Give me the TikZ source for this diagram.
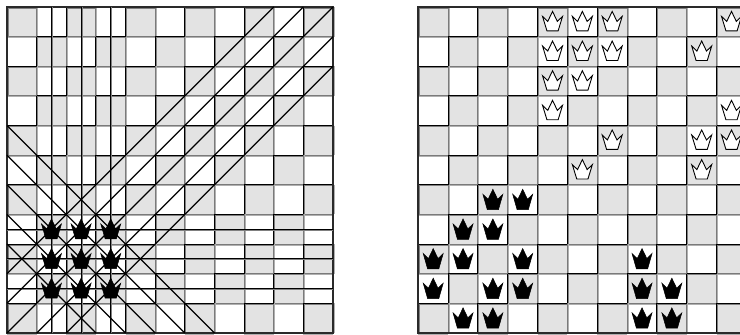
\documentclass[tikz,border=0pt]{standalone}
\definecolor{cellgrey}{HTML}{E3E3E3}
\definecolor{edgegrey}{HTML}{7A7A7A}
\definecolor{softhalo}{HTML}{B0B0B0}
\definecolor{darkhalo}{HTML}{808080}
\definecolor{frameink}{HTML}{2A2A2A}
\tikzset{
  cellfill/.style={fill=cellgrey,draw=none},
  darkedge/.style={draw=black,line width=0.95pt},
  darkcompanion/.style={draw=darkhalo,line width=0.95pt},
  softedge/.style={draw=edgegrey,line width=0.95pt},
  softcompanion/.style={draw=softhalo,line width=0.95pt},
  frameedge/.style={draw=frameink,line width=1.7pt},
  attack/.style={draw=black,line width=1.25pt},
  whitequeen/.style={fill=white,draw=black,line width=0.9pt,line join=miter},
  blackqueen/.style={fill=black,draw=black,line width=0.5pt,line join=miter}
}
% \boardat{x0}{y0}{cell w}{cell h}: checker board, y0 is the top edge in px from image top
\newcommand{\boardat}[4]{%
  \foreach \rw in {0,...,10}{\foreach \cl in {0,...,10}{%
    \pgfmathtruncatemacro{\parityval}{mod(\rw+\cl,2)}%
    \ifnum\parityval=0
      \fill[cellfill] ({#1+\cl*#3},{-(#2+\rw*#4)}) rectangle ++(#3,-#4);
    \fi}}%
  \foreach \rw in {0,...,10}{\foreach \cl in {0,...,10}{%
    \pgfmathtruncatemacro{\parityval}{mod(\rw+\cl,2)}%
    \ifnum\parityval=0
      \draw[softcompanion] ({#1+\cl*#3+#3+1},{-(#2+\rw*#4)}) -- ++(0,-#4);
      \draw[softcompanion] ({#1+\cl*#3},{-(#2+\rw*#4+#4+1)}) -- ++(#3,0);
      \draw[softedge] ({#1+\cl*#3+#3},{-(#2+\rw*#4)}) -- ++(0,-#4);
      \draw[softedge] ({#1+\cl*#3},{-(#2+\rw*#4+#4)}) -- ++(#3,0);
    \fi}}%
  \foreach \rw in {0,...,10}{\foreach \cl in {0,...,10}{%
    \pgfmathtruncatemacro{\parityval}{mod(\rw+\cl,2)}%
    \ifnum\parityval=0
      \draw[darkcompanion] ({#1+\cl*#3+1},{-(#2+\rw*#4)}) -- ++(0,-#4);
      \draw[darkcompanion] ({#1+\cl*#3},{-(#2+\rw*#4+1)}) -- ++(#3,0);
      \draw[darkedge] ({#1+\cl*#3},{-(#2+\rw*#4)}) -- ++(0,-#4);
      \draw[darkedge] ({#1+\cl*#3},{-(#2+\rw*#4)}) -- ++(#3,0);
    \fi}}%
  \draw[frameedge] (#1,{-#2}) rectangle ({#1+11*#3},{-(#2+11*#4)});
}
% crown outline centred on (x,y) in px
\newcommand{\crownat}[4]{%
  \draw[#1] ({#2-5.6},{-(#3+#4)}) -- ({#2-10},{-(#3-5.4)}) -- ({#2-4.8},{-(#3-0.4)})
    -- ({#2},{-(#3-10.4)}) -- ({#2+4.8},{-(#3-0.4)}) -- ({#2+10},{-(#3-5.4)})
    -- ({#2+5.6},{-(#3+#4)}) -- cycle;
}
\begin{document}
\begin{tikzpicture}[x=1pt,y=1pt]
\useasboundingbox (0,0) rectangle (740,-335);
\begin{scope}
\clip (0,0) rectangle (740,-335);
\fill[white] (0,0) rectangle (740,-335);
\def\Lx{7}\def\Ly{7}\def\Lw{29.64}\def\Lh{29.64}
\def\Rx{418.3}\def\Ry{7}\def\Rw{29.83}\def\Rh{29.64}
\boardat{\Lx}{\Ly}{\Lw}{\Lh}
\boardat{\Rx}{\Ry}{\Rw}{\Rh}
% attack lines on the left board: cells from the bottom-left corner
\begin{scope}[x=29.64pt,y=29.64pt,shift={(7pt,-333pt)}]
  \foreach \qq in {1.5,2.5,3.5}{
    \draw[darkcompanion] ([xshift=1pt]\qq,0) -- ([xshift=1pt]\qq,11);
    \draw[darkcompanion] ([yshift=-1pt]0,\qq) -- ([yshift=-1pt]11,\qq);
    \draw[darkedge] (\qq,0) -- (\qq,11);
    \draw[darkedge] (0,\qq) -- (11,\qq);
  }
  \draw[attack] (0,0) -- (11,11);
  \draw[attack] (0,1) -- (10,11);
  \draw[attack] (0,2) -- (9,11);
  \draw[attack] (1,0) -- (11,10);
  \draw[attack] (2,0) -- (11,9);
  \foreach \ss in {3,...,7}{
    \draw[attack] (0,\ss) -- (\ss,0);
  }
\end{scope}
\foreach \rw in {7,8,9}{\foreach \cl in {1,2,3}{
  \crownat{blackqueen}{\Lx+(\cl+0.5)*\Lw}{\Ly+(\rw+0.5)*\Lh}{9.6}
}}
% white queens, right board: col/row
\foreach \cl/\rw in {4/0,5/0,6/0,10/0,4/1,5/1,6/1,9/1,4/2,5/2,4/3,10/3,6/4,9/4,10/4,5/5,9/5}{
  \crownat{whitequeen}{\Rx+(\cl+0.5)*\Rw}{\Ry+(\rw+0.5)*\Rh}{9}
}
% black queens, right board
\foreach \cl/\rw in {2/6,3/6,1/7,2/7,0/8,1/8,3/8,7/8,0/9,2/9,3/9,7/9,8/9,1/10,2/10,7/10,8/10}{
  \crownat{blackqueen}{\Rx+(\cl+0.5)*\Rw}{\Ry+(\rw+0.5)*\Rh}{10}
}
\end{scope}
\end{tikzpicture}
\end{document}
